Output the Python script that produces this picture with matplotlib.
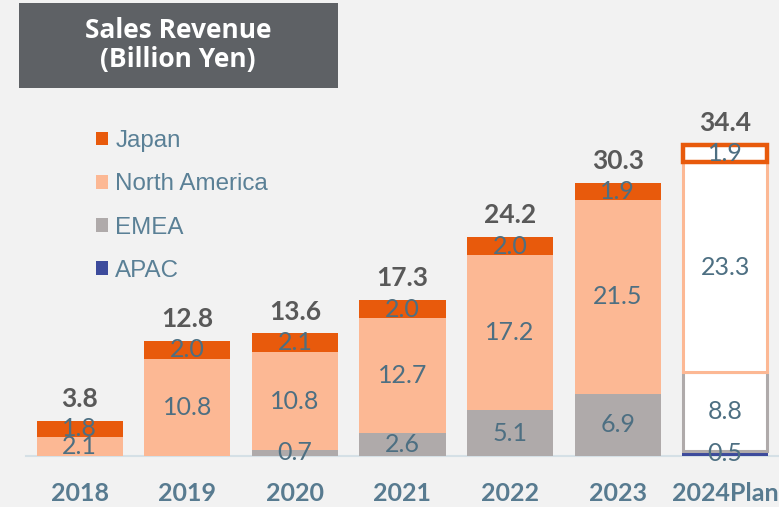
import matplotlib
matplotlib.use("Agg")
import matplotlib.pyplot as plt
from matplotlib.patches import Rectangle, Patch
import numpy as np

years = ["2018", "2019", "2020", "2021", "2022", "2023", "2024Plan"]
apac = [0.0, 0.0, 0.0, 0.0, 0.0, 0.0, 0.5]
emea = [0.0, 0.0, 0.7, 2.6, 5.1, 6.9, 8.8]
north_america = [2.1, 10.8, 10.8, 12.7, 17.2, 21.5, 23.3]
japan = [1.8, 2.0, 2.1, 2.0, 2.0, 1.9, 1.9]
totals = [3.8, 12.8, 13.6, 17.3, 24.2, 30.3, 34.4]

series_names = ["APAC", "EMEA", "North America", "Japan"]
series_vals = [apac, emea, north_america, japan]
series_cols = ["#3d4b9c", "#afaaaa", "#fcb894", "#e85a0c"]
plan_idx = 6

BG = "#f2f2f2"
LBL = "#4d6f82"
TOT = "#595959"
YR = "#587b90"

fig = plt.figure(figsize=(7.79, 5.07), dpi=100, facecolor=BG)
ax = fig.add_axes([26/779, 51/507, 753/779, 456/507])
ax.set_facecolor(BG)
x = np.arange(len(years))
bottom = np.zeros(len(years))
for name, vals, col in zip(series_names, series_vals, series_cols):
    vals = np.array(vals)
    for i in range(len(years)):
        if vals[i] <= 0:
            continue
        if i == plan_idx:
            if name == "APAC":
                ax.bar(x[i], vals[i], 0.8, bottom=bottom[i], color=col, edgecolor="none", zorder=3)
            else:
                lw = 3.2 if name == "Japan" else 2.2
                ax.bar(x[i], vals[i], 0.8 - 0.02, bottom=bottom[i], color="white",
                       edgecolor=col, linewidth=lw, zorder=3 if name != "Japan" else 4)
        else:
            ax.bar(x[i], vals[i], 0.8, bottom=bottom[i], color=col, edgecolor="none", zorder=3)
        ax.text(x[i], bottom[i] + vals[i] / 2, f"{vals[i]:.1f}", ha="center", va="center",
                fontsize=18, color=LBL, family="Lato", zorder=5)
    bottom += vals

for i, t in enumerate(totals):
    ax.annotate(f"{t:.1f}", (x[i], bottom[i]), xytext=(0, 7), textcoords="offset points",
                ha="center", va="bottom", fontsize=19, fontweight="bold", color=TOT, family="Lato")

ax.set_xlim(-0.5, 6.5)
ax.set_ylim(0, 456 / 9.01)
ax.set_xticks(x)
ax.set_xticklabels(years, fontsize=18, fontweight="bold", color=YR, family="Lato")
ax.tick_params(axis="x", length=0, pad=19)
ax.set_yticks([])
for s in ["top", "left", "right"]:
    ax.spines[s].set_visible(False)
ax.spines["bottom"].set_color("#d5e0e6")
ax.spines["bottom"].set_linewidth(1.5)
ax.spines["bottom"].set_zorder(2)

# title box
fig.patches.append(Rectangle((19/779, 1 - 88/507), 319/779, 85/507, transform=fig.transFigure,
                             facecolor="#5e6165", edgecolor="none", zorder=1))
fig.text(178/779, 1 - 30/507, "Sales Revenue", ha="center", va="center", fontsize=19,
         fontweight="bold", color="white", family="Open Sans")
fig.text(178/779, 1 - 60/507, "(Billion Yen)", ha="center", va="center", fontsize=19,
         fontweight="bold", color="white", family="Open Sans")

handles = [Patch(facecolor=c, edgecolor="none") for c in series_cols[::-1]]
leg = fig.legend(handles, series_names[::-1], loc="upper left", bbox_to_anchor=(96/779, 1 - 130/507),
                 frameon=False, prop={"family": "Liberation Sans", "size": 17.4},
                 handlelength=0.5, handleheight=0.5, handletextpad=0.3, labelspacing=0.88,
                 labelcolor="#5a8096", borderpad=0, borderaxespad=0)

fig.savefig("out.png", dpi=100, facecolor=BG)
